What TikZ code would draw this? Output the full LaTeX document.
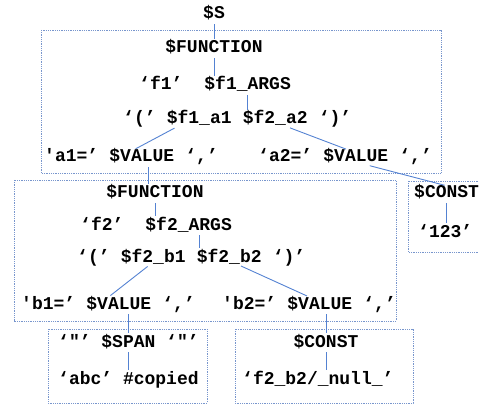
\documentclass[tikz,border=0pt]{standalone}
\usepackage{fontspec}
\setmonofont{Liberation Mono}
\usetikzlibrary{positioning}

\definecolor{edgeblue}{RGB}{84,130,210}
\definecolor{boxblue}{RGB}{120,150,205}

\tikzset{
  tok/.style={font=\fontsize{18}{20}\selectfont\ttfamily\bfseries, inner sep=0pt,
    text height=12pt, text depth=3pt},
  link/.style={draw=edgeblue, line width=0.9pt, shorten <=2pt, shorten >=2pt},
  grp/.style={draw=boxblue, line width=0.8pt, densely dotted},
}

\begin{document}
\begin{tikzpicture}[x=1pt, y=-1pt, node distance=10.8pt]
\useasboundingbox (0,0) rectangle (479,406);
\clip (0,0) rectangle (479,406);

% groups
\draw[grp] (41,30) rectangle (441,173);
\draw[grp] (14,180) rectangle (396,321);
\draw[grp] (408,181) rectangle (490,252);
\draw[grp] (48,329) rectangle (207,403);
\draw[grp] (235,329) rectangle (413,403);

% outer function
\node[tok, anchor=base] (s) at (214,19) {\$S};
\node[tok, anchor=base] (func1) at (214,53) {\$FUNCTION};
\node[tok, anchor=base west] (f1name) at (139,90) {‘f1’};
\node[tok, right=21.6pt of f1name] (f1args) {\$f1\_ARGS};
\node[tok, anchor=base west] (lp1) at (123,124) {‘(’};
\node[tok, right=of lp1] (f1a1) {\$f1\_a1};
\node[tok, right=of f1a1] (f2a2) {\$f2\_a2};
\node[tok, right=of f2a2] (rp1) {‘)’};
\node[tok, anchor=base west] (a1key) at (44,162) {'a1=’};
\node[tok, right=of a1key] (a1val) {\$VALUE};
\node[tok, right=of a1val] (a1sep) {‘,’};
\node[tok, anchor=base west] (a2key) at (258,162) {‘a2=’};
\node[tok, right=of a2key] (a2val) {\$VALUE};
\node[tok, right=of a2val] (a2sep) {‘,’};

% constant of a2
\node[tok, anchor=base west] (const1) at (414,198) {\$CONST};
\node[tok, anchor=base west] (num) at (418,237) {‘123’};

% inner function
\node[tok, anchor=base] (func2) at (155,198) {\$FUNCTION};
\node[tok, anchor=base west] (f2name) at (80,230) {‘f2’};
\node[tok, right=21.6pt of f2name] (f2args) {\$f2\_ARGS};
\node[tok, anchor=base west] (lp2) at (77,262) {‘(’};
\node[tok, right=of lp2] (f2b1) {\$f2\_b1};
\node[tok, right=of f2b1] (f2b2) {\$f2\_b2};
\node[tok, right=of f2b2] (rp2) {‘)’};
\node[tok, anchor=base west] (b1key) at (21,309) {'b1=’};
\node[tok, right=of b1key] (b1val) {\$VALUE};
\node[tok, right=of b1val] (b1sep) {‘,’};
\node[tok, anchor=base west] (b2key) at (222,309) {'b2=’};
\node[tok, right=of b2key] (b2val) {\$VALUE};
\node[tok, right=of b2val] (b2sep) {‘,’};

% leaves
\node[tok, anchor=base west] (span) at (58,347) {‘"’ \$SPAN ‘"’};
\node[tok, anchor=base west] (abc) at (58,384) {‘abc’ \#copied};
\node[tok, anchor=base] (const2) at (326,347) {\$CONST};
\node[tok, anchor=base west] (nullv) at (242,384) {‘f2\_b2/\_null\_’};

% taps
\coordinate (f1tap) at ([xshift=-23pt]f1a1.south);
\coordinate (f2tap) at ([xshift=13pt]f2a2.south);
\coordinate (a1tap) at ([xshift=7pt]a1val.south);
\coordinate (a2tap) at ([xshift=12pt]a2val.south);
\coordinate (f2atap) at ([xshift=11pt]f2args.south);
\coordinate (b1tap) at ([xshift=-4pt]f2b1.south);
\coordinate (b2tap) at ([xshift=10pt]f2b2.south);
\coordinate (spantap) at ([xshift=10pt]b1val.south);

\draw[link] (s) -- (func1);
\draw[link] (func1.south) -- (func1.south |- f1args.north);
\draw[link] (f1args.south) -- (f1args.south |- f2a2.north);
\draw[link] (f1tap) -- ([xshift=-8pt]a1val.north);
\draw[link] (f2tap) -- ([xshift=-8pt]a2val.north);
\draw[link] (a1tap) -- (a1tap |- func2.north);
\draw[link] (a2tap) -- (const1.north);
\draw[link] (const1.south) -- (const1.south |- num.north);
\draw[link] (func2.south) -- (func2.south |- f2args.north);
\draw[link] (f2atap) -- (f2atap |- f2b2.north);
\draw[link] (b1tap) -- ([xshift=-10pt]b1val.north);
\draw[link] (b2tap) -- ([xshift=-11pt]b2val.north);
\draw[link] (spantap) -- (spantap |- span.north);
\draw[link] (span) -- (abc);
\draw[link] (const2.north |- b2val.south) -- (const2.north);
\draw[link] (const2.south) -- (const2.south |- nullv.north);
\end{tikzpicture}
\end{document}
